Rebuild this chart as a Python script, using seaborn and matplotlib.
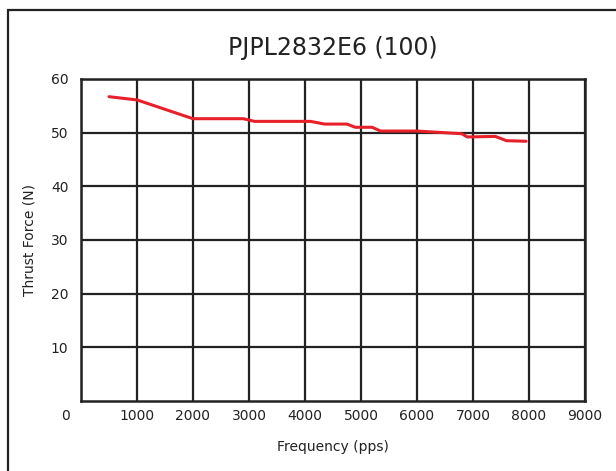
import numpy as np
import pandas as pd
import seaborn as sns
import matplotlib.pyplot as plt
from matplotlib.patches import Rectangle
from matplotlib.transforms import ScaledTranslation

# Datos
frecuencia = [500, 1000, 2000, 2900, 3100, 4100, 4350, 4750, 4900, 5200,
              5350, 6000, 6800, 6900, 7400, 7600, 7950]
fuerza = [56.7, 56.1, 52.6, 52.6, 52.1, 52.1, 51.6, 51.6, 51.0, 51.0,
          50.3, 50.3, 49.8, 49.2, 49.3, 48.5, 48.4]

x_ticks = list(range(0, 9001, 1000))
y_ticks = [10, 20, 30, 40, 50, 60]

df = pd.DataFrame({'Frecuencia': frecuencia, 'Fuerza': fuerza})

sns.set_theme(style="white")
plt.rcParams['font.family'] = ['DejaVu Sans']

fig = plt.figure(figsize=(6.16, 4.71), dpi=100)
ax = fig.add_axes([0.1315, 0.1486, 0.818, 0.6837])

sns.lineplot(data=df, x='Frecuencia', y='Fuerza', color='#e8202a',
             linewidth=2.2, ax=ax, zorder=3)

ax.set_xlim(0, 9000)
ax.set_ylim(0, 60)
ax.set_xticks(x_ticks)
ax.set_xticklabels([str(v) for v in x_ticks])
ax.set_yticks(y_ticks)
ax.set_yticklabels([str(v) for v in y_ticks])
ax.tick_params(length=0, labelsize=10, colors='#222222')
ax.tick_params(axis='x', pad=6)
ax.tick_params(axis='y', pad=9)

# el "0" va desplazado a la izquierda
lbl0 = ax.get_xticklabels()[0]
lbl0.set_transform(lbl0.get_transform() + ScaledTranslation(-0.16, 0, fig.dpi_scale_trans))

ax.grid(True, color='#222222', linewidth=1.6)
for s in ax.spines.values():
    s.set_color('#222222')
    s.set_linewidth(1.8)

ax.set_title("PJPL2832E6 (100)", fontsize=17, color='#222222', pad=17)
ax.set_xlabel("Frequency (pps)", fontsize=10, color='#222222', labelpad=12)
ax.set_ylabel("Thrust Force (N)", fontsize=10, color='#222222', labelpad=10)

# marco exterior
fig.patches.append(Rectangle((8 / 616, -0.1), 1.2, 1.1 - 10 / 471,
                             transform=fig.transFigure, fill=False,
                             edgecolor='#222222', linewidth=1.6))

fig.savefig("out.png", dpi=100)
plt.close(fig)
